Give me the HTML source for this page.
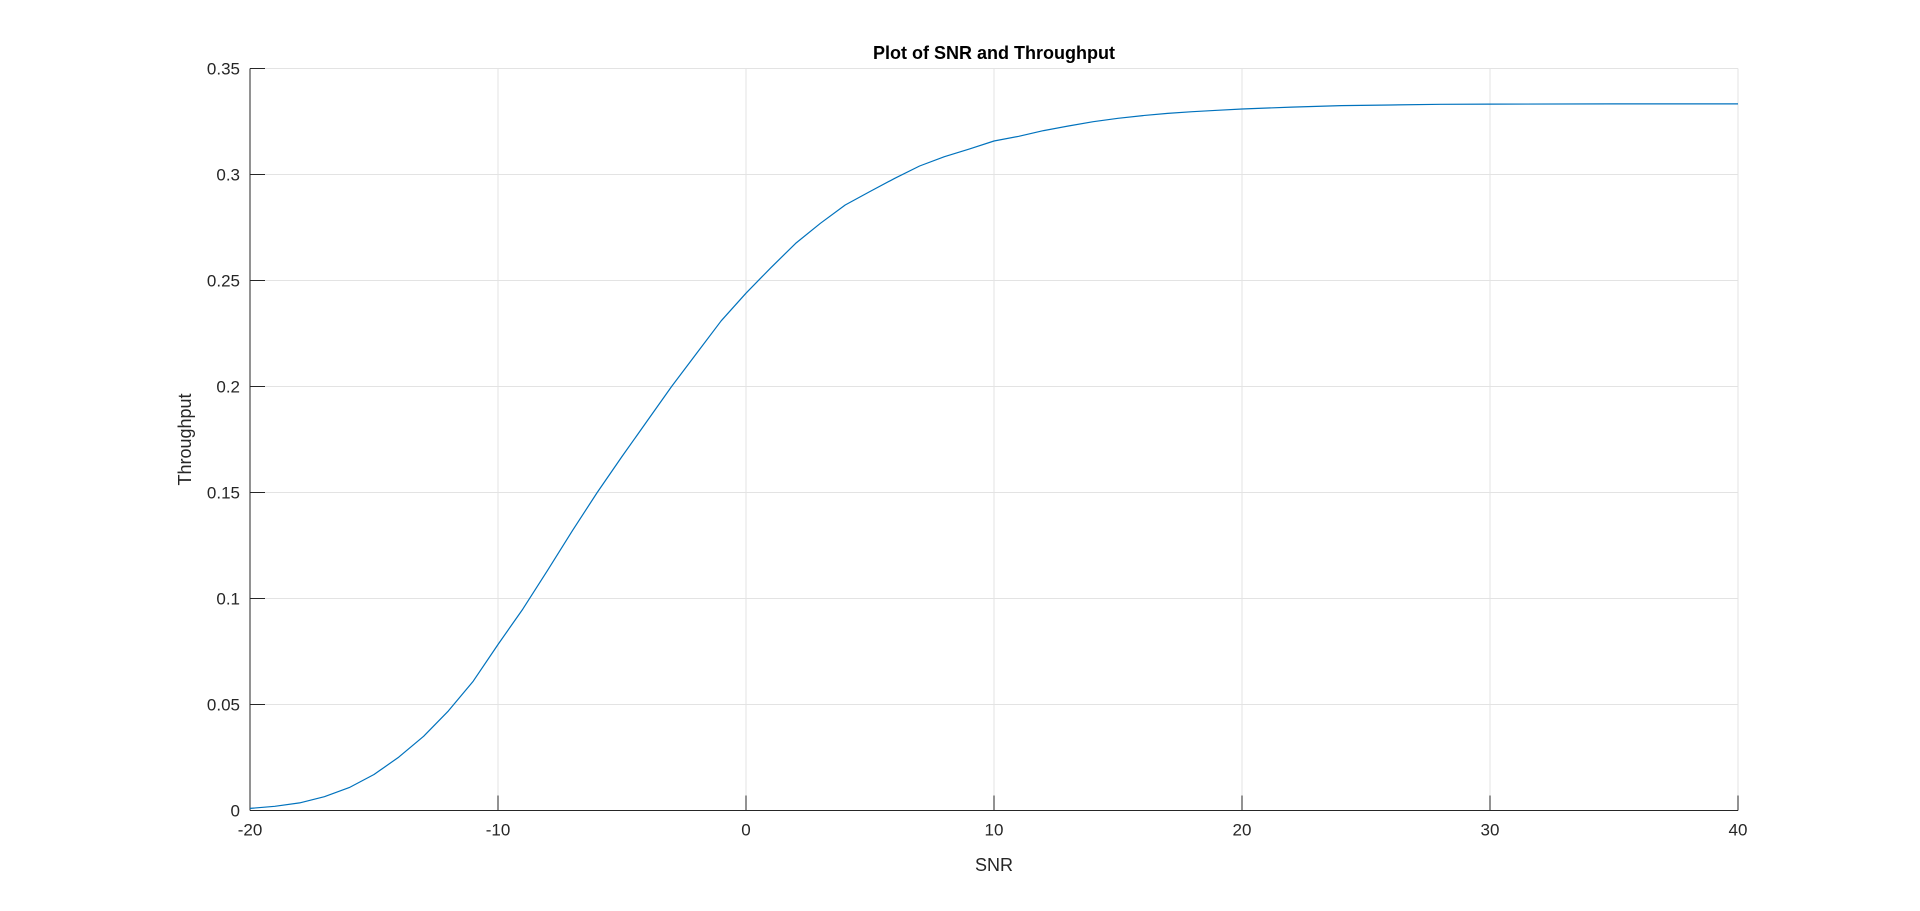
<!DOCTYPE html>
<html><head><meta charset="utf-8"><style>
html,body{margin:0;padding:0;background:#fff;}
svg{display:block;font-family:"Liberation Sans",Arial,sans-serif;}
</style></head><body>
<svg id="chart" width="1920" height="911" viewBox="0 0 1920 911" xmlns="http://www.w3.org/2000/svg">
<rect width="1920" height="911" fill="#fff"/>
<g id="grid"></g>
<g id="axes"></g>
<g id="series"></g>
<text x="994" y="59" text-anchor="middle" font-size="18" font-weight="bold" fill="#000">Plot of SNR and Throughput</text>
<text x="994" y="871" text-anchor="middle" font-size="18" fill="#262626">SNR</text>
<text transform="translate(191,439.5) rotate(-90)" text-anchor="middle" font-size="18" fill="#262626">Throughput</text>
</svg>
<script>
const snr = [-20,-19,-18,-17,-16,-15,-14,-13,-12,-11,-10,-9,-8,-7,-6,-5,-4,-3,-2,-1,0,1,2,3,4,5,6,7,8,9,10,11,12,13,14,15,16,17,18,19,20,22,24,26,28,30,35,40];
const throughput = [0.001,0.002,0.0036,0.0065,0.0108,0.017,0.0252,0.035,0.047,0.061,0.0783,0.095,0.1133,0.132,0.150,0.167,0.1835,0.200,0.2155,0.231,0.244,0.256,0.2675,0.277,0.2856,0.292,0.2982,0.304,0.3084,0.312,0.3158,0.318,0.3207,0.3229,0.3249,0.3265,0.3278,0.3288,0.3296,0.3303,0.3309,0.3318,0.3325,0.3328,0.3331,0.3332,0.3333,0.3333];
const xTicks = [-20,-10,0,10,20,30,40];
const yTicks = [0,0.05,0.1,0.15,0.2,0.25,0.3,0.35];
const yTickLabels = ["0","0.05","0.1","0.15","0.2","0.25","0.3","0.35"];

const L=250, R=1738, T=68.5, B=810.5;
const xMin=-20,xMax=40,yMin=0,yMax=0.35;
const xs=v=>L+(v-xMin)/(xMax-xMin)*(R-L);
const ys=v=>B-(v-yMin)/(yMax-yMin)*(B-T);
const NS="http://www.w3.org/2000/svg";
function mk(tag,attrs,parent){const e=document.createElementNS(NS,tag);for(const k in attrs)e.setAttribute(k,attrs[k]);parent.appendChild(e);return e;}
const grid=document.getElementById('grid'),axes=document.getElementById('axes'),series=document.getElementById('series');

xTicks.forEach(v=>{
  const x=xs(v);
  if(v!==xMin){const g=mk('line',{x1:x,x2:x,y1:T,y2:B,stroke:'#e3e3e3','stroke-width':1},grid);
  
  }
  const t=mk('line',{x1:x,x2:x,y1:B,y2:B-15,stroke:'#262626','stroke-width':1},axes);
  
  
  const l=mk('text',{x:x,y:B+25,'text-anchor':'middle','font-size':17,fill:'#262626'},axes);
  l.textContent=String(v);
  
  
});
yTicks.forEach((v,i)=>{
  const y=ys(v);
  if(v!==yMin){const g=mk('line',{x1:L,x2:R,y1:y,y2:y,stroke:'#e3e3e3','stroke-width':1},grid);
  
  }
  const t=mk('line',{x1:L,x2:L+15,y1:y,y2:y,stroke:'#262626','stroke-width':1},axes);
  
  
  const l=mk('text',{x:L-10,y:y+6,'text-anchor':'end','font-size':17,fill:'#262626'},axes);
  l.textContent=yTickLabels[i];
  
  
});
const xa=mk('line',{x1:L,x2:R,y1:B,y2:B,stroke:'#262626','stroke-width':1},axes);


const ya=mk('line',{x1:L,x2:L,y1:T,y2:B,stroke:'#262626','stroke-width':1},axes);



const pts=snr.map((s,i)=>xs(s).toFixed(1)+','+ys(throughput[i]).toFixed(1)).join(' ');
const line=mk('polyline',{points:pts,fill:'none',stroke:'#0072bd','stroke-width':1.2,'stroke-linejoin':'round'},series);


</script>
</body></html>
